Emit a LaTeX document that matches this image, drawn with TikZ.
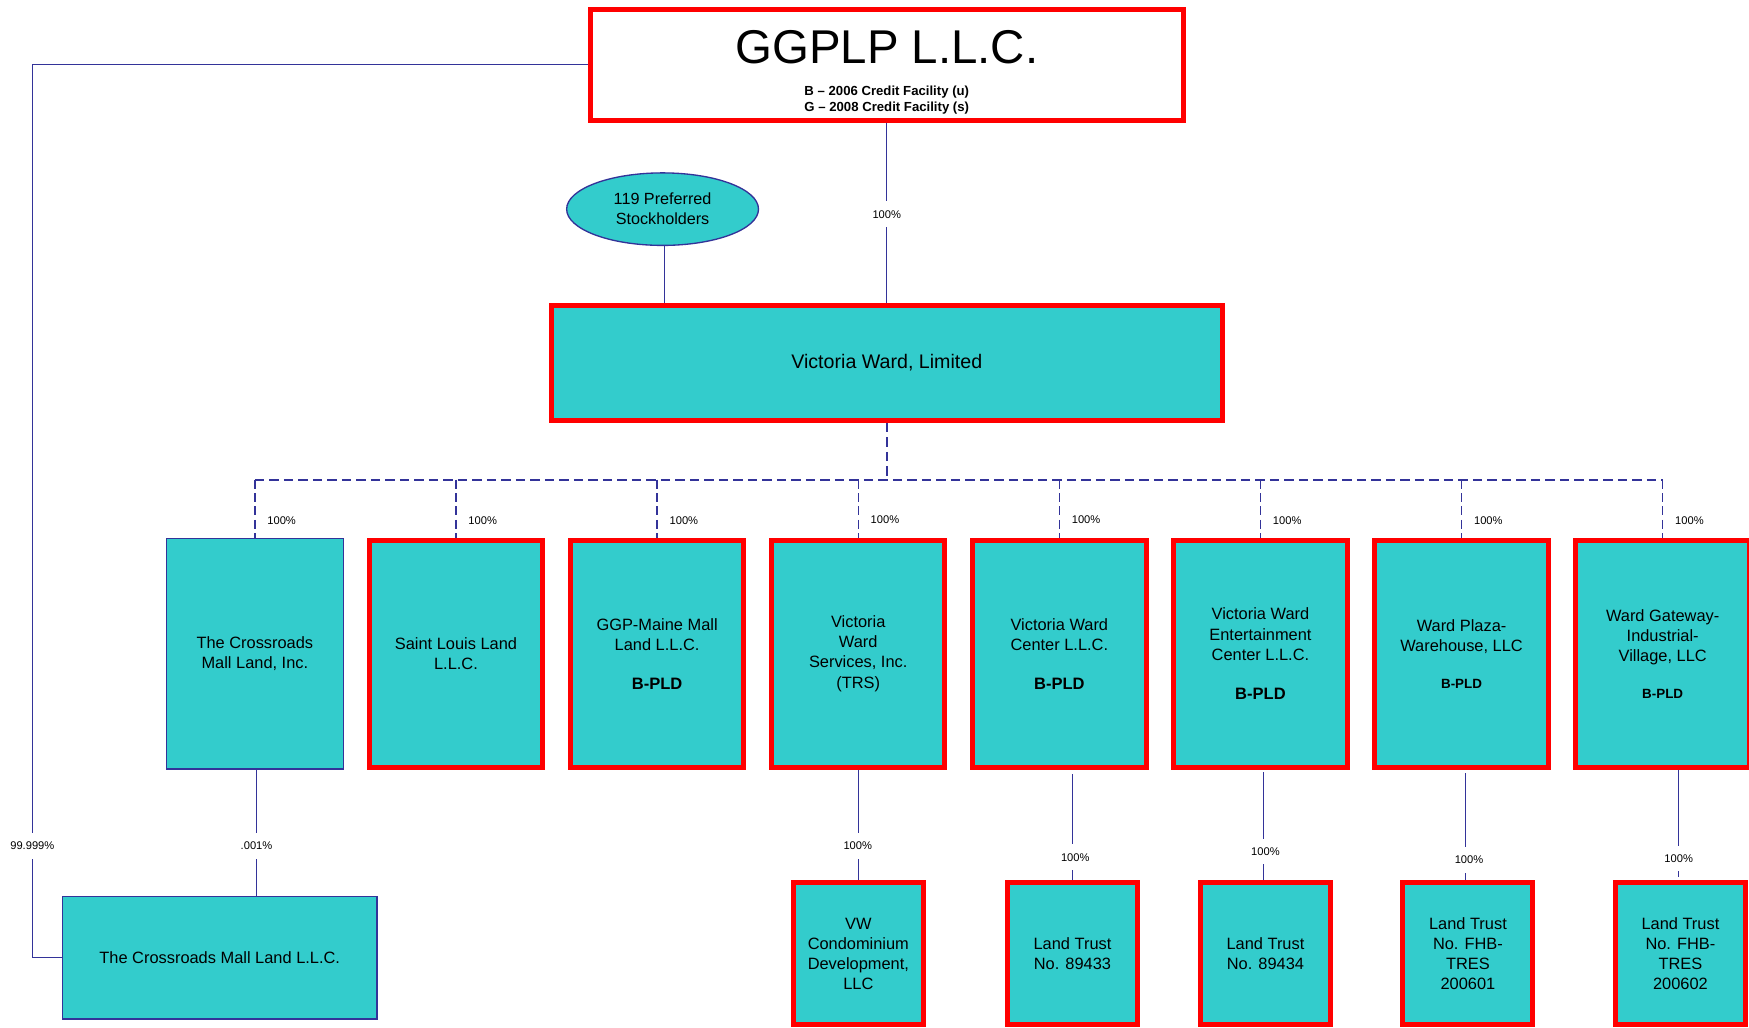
\documentclass[tikz,border=0pt]{standalone}
\usepackage{fontspec}
\setmainfont{Liberation Sans}
\usetikzlibrary{shapes.geometric}
\definecolor{tealfill}{HTML}{33CCCC}
\definecolor{boxred}{HTML}{FF0000}
\definecolor{linkblue}{HTML}{333399}
\newcommand{\bxfont}{\fontsize{14.7}{18}\selectfont}
\newcommand{\pctfont}{\fontsize{10}{12}\selectfont}
\newcommand{\bigpld}{\fontsize{14.8}{18}\selectfont\bfseries B-PLD}
\newcommand{\smallpld}{\fontsize{12}{14}\selectfont\bfseries B-PLD}
\tikzset{
  redbox/.style={draw=boxred, line width=4.5pt, fill=tealfill, inner sep=0pt, align=center, font=\bxfont},
  bluebox/.style={draw=linkblue, line width=1.2pt, fill=tealfill, inner sep=0pt, align=center, font=\bxfont},
  midred/.style={redbox, minimum width=155.5pt, minimum height=203.5pt},
  midblue/.style={bluebox, minimum width=158.8pt, minimum height=206.8pt},
  lowred/.style={redbox, minimum width=116.5pt, minimum height=127.5pt},
  link/.style={draw=linkblue, line width=1pt},
  dsh/.style={draw=linkblue, line width=1.2pt, dash pattern=on 8pt off 4pt},
  busline/.style={draw=linkblue, line width=1.8pt, dash pattern=on 8.5pt off 4.5pt},
  pct/.style={font=\pctfont, inner sep=0pt, anchor=west},
  pctw/.style={font=\pctfont, fill=white, inner xsep=1.5pt, inner ysep=0pt, minimum height=23pt},
}
\begin{document}
\begin{tikzpicture}[x=1pt, y=-1pt]
\useasboundingbox (0,0) rectangle (1568,921);
\clip (0,0) rectangle (1568,921);
\fill[white] (0,0) rectangle (1568,921);

% top
\node[draw=boxred, line width=4.5pt, fill=white, minimum width=531.5pt, minimum height=99.5pt, inner sep=0pt] (ggplp) at (795,58) {};
\node[font=\fontsize{42.5}{48}\selectfont, anchor=base, inner sep=0pt] (ggtitle) at (795,57) {GGPLP L.L.C.};
\node[font=\fontsize{11.8}{14}\selectfont\bfseries, anchor=base, inner sep=0pt] (ggsub1) at (795,86) {B – 2006 Credit Facility (u)};
\node[font=\fontsize{11.8}{14}\selectfont\bfseries, anchor=base, inner sep=0pt] (ggsub2) at (795,100) {G – 2008 Credit Facility (s)};

\node[ellipse, draw=linkblue, line width=1.2pt, fill=tealfill, minimum width=172pt, minimum height=65pt, inner sep=0pt, align=center, font=\fontsize{14.5}{18}\selectfont] (pref) at (594,187.5) {119 Preferred\\Stockholders};

\node[redbox, minimum width=601.5pt, minimum height=102.5pt, font=\fontsize{17.6}{21}\selectfont] (vwl) at (795,325.5) {Victoria Ward, Limited};

% second row
\node[midblue] (cri) at (228.5,586) {The Crossroads\\Mall Land, Inc.};
\node[midred] (stl) at (408.8,586) {Saint Louis Land\\L.L.C.};
\node[midred] (ggpm) at (589.1,586) {GGP-Maine Mall\\Land L.L.C.\\[17pt]\bigpld};
\node[midred] (vws) at (769.4,586) {Victoria\\Ward\\Services, Inc.\\(TRS)};
\node[midred] (vwc) at (949.7,586) {Victoria Ward\\Center L.L.C.\\[17pt]\bigpld};
\node[midred] (vwe) at (1130,586) {Victoria Ward\\Entertainment\\Center L.L.C.\\[17pt]\bigpld};
\node[midred] (wpw) at (1310.3,586) {Ward Plaza-\\Warehouse, LLC\\[15pt]\smallpld};
\node[midred] (wgi) at (1490.6,586) {Ward Gateway-\\Industrial-\\Village, LLC\\[15pt]\smallpld};

% bottom row
\node[bluebox, minimum width=281.8pt, minimum height=109.8pt] (crl) at (197,858.5) {The Crossroads Mall Land L.L.C.};
\node[lowred] (vwcd) at (769.5,855) {VW\\Condominium\\Development,\\LLC};
\node[lowred] (lt1) at (961.5,855) {Land Trust\\No. 89433};
\node[lowred] (lt2) at (1134.5,855) {Land Trust\\No. 89434};
\node[lowred] (lt3) at (1316,855) {Land Trust\\No. FHB-\\TRES\\200601};
\node[lowred] (lt4) at (1506.5,855) {Land Trust\\No. FHB-\\TRES\\200602};

% connectors
\coordinate (lft) at (29,0);
\coordinate (bus) at (795,430);
\draw[link] (ggplp.west) -- (lft |- ggplp.west) -- (lft |- crl.west) -- (crl.west);
\draw[link] (ggplp.south) -- (vwl.north);
\draw[link] (pref.south -| 596,0) -- (vwl.north -| 596,0);
\draw[busline] (vwl.south) -- (bus);
\draw[busline] (cri.north |- bus) -- (wgi.north |- bus);
\foreach \b in {cri,stl,ggpm,vws,vwc,vwe,wpw,wgi}
  \draw[dsh] (\b.north |- bus) -- (\b.north);

\draw[link] (crl.north -| 230,0) -- (cri.south -| 230,0);
\draw[link] (vwcd.north) -- (vwcd.north |- vws.south);
\draw[link, shorten >=4pt] (lt1.north) -- (lt1.north |- vwc.south);
\draw[link, shorten >=2pt] (lt2.north -| 1133,0) -- (vwe.south -| 1133,0);
\draw[link, shorten >=3pt] (lt3.north -| 1314,0) -- (wpw.south -| 1314,0);
\draw[link, shorten <=3pt] (lt4.north -| 1505,0) -- (wgi.south -| 1505,0);

% labels
\node[pctw] (l0) at (795,192) {100\%};
\node[pctw] (l99) at (29,758.5) {99.999\%};
\node[pctw] (l001) at (230,758.5) {.001\%};
\node[pctw] (l2) at (769,758.5) {100\%};
\node[pctw] (l3) at (964,768.5) {100\%};
\node[pctw] (l4) at (1134.5,763.5) {100\%};
\node[pctw] (l5) at (1317,771) {100\%};
\node[pctw] (l6) at (1505,769.5) {100\%};

\node[pct] (d1) at (239.5,467) {100\%};
\node[pct] (d2) at (419.8,467) {100\%};
\node[pct] (d3) at (600.1,467) {100\%};
\node[pct] (d4) at (780.4,465.5) {100\%};
\node[pct] (d5) at (960.7,465.5) {100\%};
\node[pct] (d6) at (1141,467) {100\%};
\node[pct] (d7) at (1321.3,467) {100\%};
\node[pct] (d8) at (1501.6,467) {100\%};
\end{tikzpicture}
\end{document}
